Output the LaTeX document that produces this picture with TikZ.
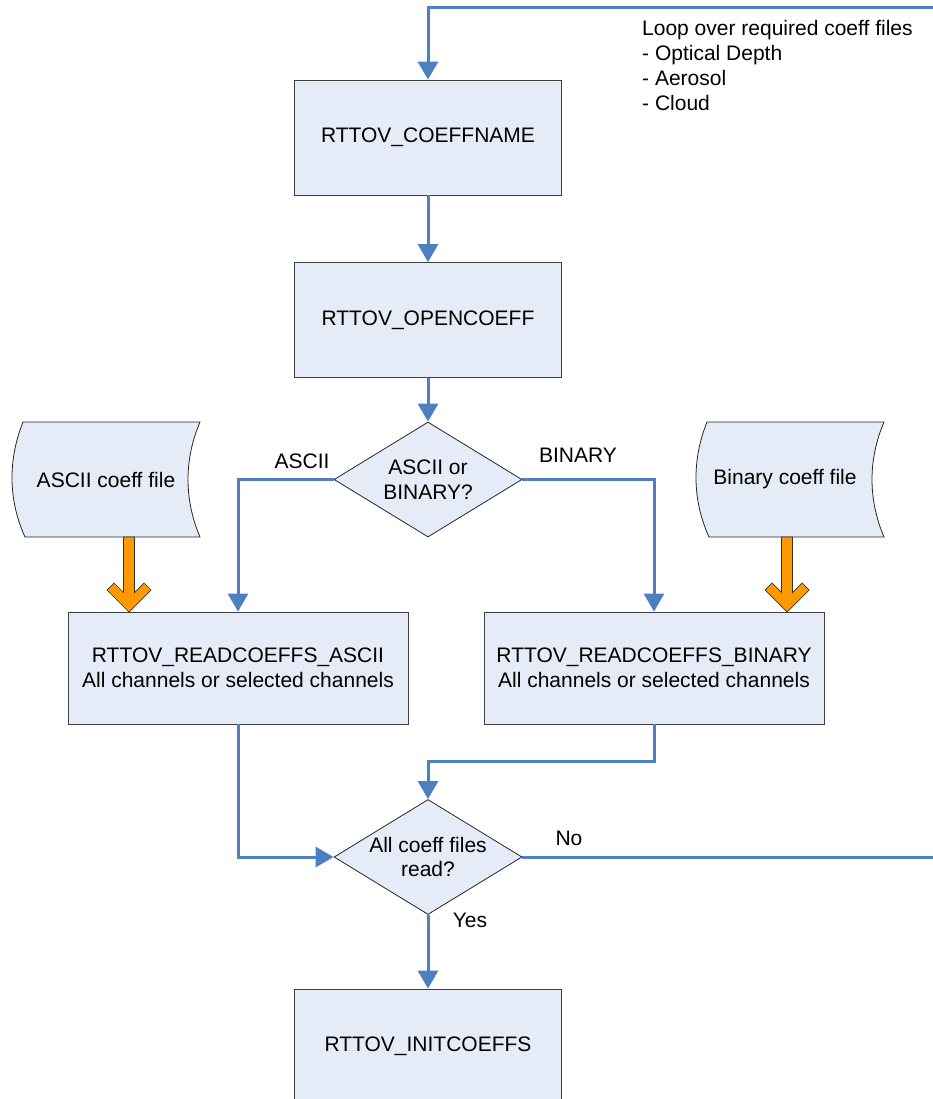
\documentclass[tikz,border=0pt]{standalone}
\usepackage{fontspec}
\setmainfont{Liberation Sans}
\usetikzlibrary{arrows.meta,shapes.geometric}

\definecolor{boxfill}{RGB}{230,236,247}
\definecolor{flowblue}{RGB}{77,128,192}
\definecolor{feedorange}{RGB}{255,153,0}

\tikzset{
    proc/.style={draw=black!75, fill=boxfill, line width=0.8pt,
        minimum width=267pt, minimum height=115pt, align=center,
        inner sep=0pt},
    wideproc/.style={proc, minimum width=340pt, minimum height=112pt},
    decide/.style={diamond, draw=black!85, fill=boxfill, line width=0.8pt,
        minimum width=188pt, minimum height=115pt, aspect=1.63,
        inner sep=-8pt, align=center},
    filebody/.style={draw=black!85, fill=boxfill, line width=0.8pt},
    feedbody/.style={draw=black!80, fill=feedorange, line width=0.7pt},
    flow/.style={draw=flowblue, line width=3pt,
        -{Triangle[width=20pt,length=18pt]}},
    lbl/.style={inner sep=0pt},
}

\newcommand{\filepath}{(-88,-57.5) -- (89,-57.5)
    .. controls (73,-20) and (73,20) .. (89,57.5) -- (-86,57.5)
    .. controls (-103,20) and (-103,-20) .. (-88,-57.5) -- cycle}
\newcommand{\feedpath}{(0,0) -- (-22,-22) -- (-15,-29) -- (-5.5,-19.5)
    -- (-5.5,-75) -- (5.5,-75) -- (5.5,-19.5) -- (15,-29) -- (22,-22)
    -- cycle}

\begin{document}
\begin{tikzpicture}[x=1pt, y=-1pt,
    every node/.style={font=\fontsize{21}{24.5}\selectfont}]
    \useasboundingbox (0,0) rectangle (932,1099);

    \node[proc] (coeffname) at (428,137.5) {RTTOV\_COEFFNAME};
    \node[proc] (opencoeff) at (428,320) {RTTOV\_OPENCOEFF};
    \node[decide] (fmt) at (428,479.5) {ASCII or\\BINARY?};
    \node[wideproc] (asciibox) at (238,668)
        {RTTOV\_READCOEFFS\_ASCII\\All channels or selected channels};
    \node[wideproc] (binbox) at (654,668)
        {RTTOV\_READCOEFFS\_BINARY\\All channels or selected channels};
    \node[decide] (allread) at (428,857) {All coeff files\\read?};
    \node[proc] (initcoeffs) at (428,1046.5) {RTTOV\_INITCOEFFS};

    \draw[filebody, shift={(111,479.5)}] \filepath;
    \node[lbl] (asciifile) at (106,479.5) {ASCII coeff file};
    \draw[filebody, shift={(795,479.5)}] \filepath;
    \node[lbl] (binfile) at (785,479.5) {Binary coeff file};

    \coordinate (asciifeed) at (129,612);
    \coordinate (binfeed) at (787,612);
    \draw[feedbody, shift={(asciifeed)}] \feedpath;
    \draw[feedbody, shift={(binfeed)}] \feedpath;

    \coordinate (loopturn) at (936,8);
    \draw[flow] (coeffname) -- (opencoeff);
    \draw[flow] (opencoeff) -- (fmt);
    \draw[flow] (fmt.west) -| (asciibox);
    \draw[flow] (fmt.east) -| (binbox);
    \draw[flow] (asciibox) |- (allread.west);
    \draw[flow] (binbox.south) |- ([yshift=38pt]allread.north)
        -- (allread.north);
    \draw[flow] (allread.south) -- (initcoeffs.north);
    \draw[flow] (allread.east) -| (loopturn) -| (coeffname.north);

    \node[lbl] (asciilbl) at (302,461) {ASCII};
    \node[lbl] (binlbl) at (578,455) {BINARY};
    \node[lbl] (nolbl) at (569,838) {No};
    \node[lbl] (yeslbl) at (470,920) {Yes};
    \node[lbl, anchor=base west, align=left,
        font=\fontsize{21}{25}\selectfont] (loopnote) at (642,111)
        {Loop over required coeff files\\- Optical Depth\\- Aerosol\\- Cloud};
\end{tikzpicture}
\end{document}
